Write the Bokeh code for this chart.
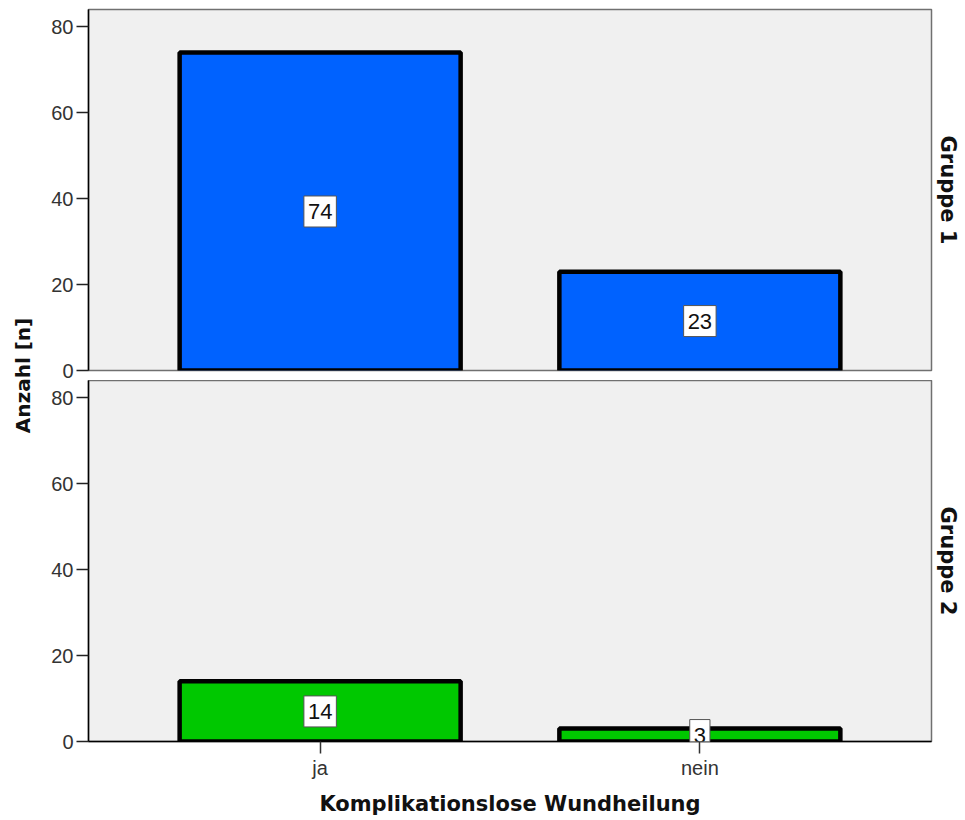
import math
from bokeh.plotting import figure
from bokeh.layouts import column, row
from bokeh.models import Range1d, FactorRange, FixedTicker, Title, Label, ColumnDataSource
from bokeh.embed import file_html
from bokeh.resources import INLINE

categories = ["ja", "nein"]
groups = ["Gruppe 1", "Gruppe 2"]
counts_g1 = [74, 23]
counts_g2 = [14, 3]
y_ticks = [0, 20, 40, 60, 80]
bar_colors = ["#0062FF", "#00C800"]
x_title = "Komplikationslose Wundheilung"
y_title = "Anzahl [n]"

TICK_FONT = "Liberation Sans"
BOLD_FONT = "DejaVu Sans"

x_range = FactorRange(factors=categories, range_padding=0.11)


def make_panel(counts, color, group, show_x):
    p = figure(x_range=x_range, y_range=Range1d(0, 84),
               frame_width=843, frame_height=361,
               min_border_left=46, min_border_right=32,
               min_border_top=(0 if show_x else 9),
               min_border_bottom=10,
               output_backend="svg", toolbar_location=None,
               background_fill_color="#F0F0F0", border_fill_color="white",
               outline_line_color="#707070", outline_line_width=1.5)
    src = ColumnDataSource(dict(cat=categories, n=counts))
    p.vbar(x="cat", top="n", width=0.74, source=src, fill_color=color,
           line_color="black", line_width=4.5)
    for i, n in enumerate(counts):
        # synthetic categorical coordinate: centre of factor i
        p.add_layout(Label(x=i + 0.5, y=n / 2, text=str(n), text_align="center",
                           text_baseline="middle", text_font=TICK_FONT,
                           text_font_size="22px", text_color="#111111",
                           background_fill_color="white",
                           border_line_color="#555555", border_line_width=1,
                           padding=dict(left=4, right=4, top=8, bottom=8)))
    p.xgrid.visible = False
    p.ygrid.visible = False
    ya = p.yaxis[0]
    ya.ticker = FixedTicker(ticks=y_ticks)
    ya.minor_tick_line_color = None
    ya.major_tick_out = 12
    ya.major_tick_in = 0
    ya.major_label_standoff = 3
    ya.major_label_text_font = TICK_FONT
    ya.major_label_text_font_size = "20px"
    ya.major_label_text_color = "#333333"
    ya.axis_line_color = "black"
    ya.axis_line_width = 1.5
    ya.major_tick_line_color = "#222222"
    ya.major_tick_line_width = 1.5
    xa = p.xaxis[0]
    if show_x:
        xa.major_tick_out = 12
        xa.major_tick_in = 0
        xa.major_label_standoff = 3
        xa.major_label_text_font = TICK_FONT
        xa.major_label_text_font_size = "20px"
        xa.major_label_text_color = "#333333"
        xa.axis_line_color = "black"
        xa.axis_line_width = 1.5
        xa.major_tick_line_color = "#333333"
        xa.major_tick_line_width = 1.5
        xa.axis_label = x_title
        xa.axis_label_text_font = BOLD_FONT
        xa.axis_label_text_font_style = "bold"
        xa.axis_label_text_font_size = "21px"
        xa.axis_label_text_color = "#111111"
        xa.axis_label_standoff = 10
    else:
        xa.visible = False
    p.add_layout(Title(text=group, align="center", text_font=BOLD_FONT,
                       text_font_style="bold", text_font_size="21px",
                       text_color="#111111", standoff=8), "right")
    return p


p1 = make_panel(counts_g1, bar_colors[0], groups[0], False)
p2 = make_panel(counts_g2, bar_colors[1], groups[1], True)

LAB_H = 812
lab = figure(width=42, height=LAB_H, x_range=Range1d(0, 1), y_range=Range1d(0, 1),
             min_border=0, output_backend="svg", toolbar_location=None,
             outline_line_color=None)
lab.axis.visible = False
lab.grid.visible = False
lab.add_layout(Label(x=22 / 42, y=1 - 375 / LAB_H, text=y_title, angle=math.pi / 2,
                     text_align="center", text_baseline="middle",
                     text_font=BOLD_FONT, text_font_style="bold",
                     text_font_size="20px", text_color="#111111"))

layout = row(lab, column(p1, p2, spacing=0), spacing=0)

open("out.html", "w").write(file_html(layout, INLINE))
